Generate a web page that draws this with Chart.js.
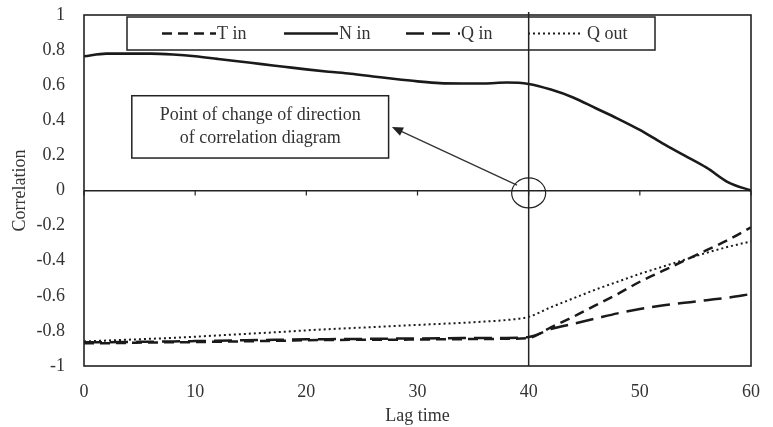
<!DOCTYPE html>
<html>
<head>
<meta charset="utf-8">
<script src="https://cdn.jsdelivr.net/npm/chart.js@4.4.1/dist/chart.umd.min.js"></script>
<style>
  html, body { margin: 0; padding: 0; background: #fff; }
  #wrap { width: 773px; height: 427px; }
</style>
</head>
<body>
<div id="wrap"><canvas id="corrChart" width="773" height="427"></canvas></div>
<script>
// lag time (x) and correlation series
const LAGS = [0, 2, 4, 6, 8, 10, 12, 14, 16, 18, 20, 22, 24, 26, 28, 30,
              32, 34, 36, 38, 40, 42, 44, 46, 48, 50, 52, 54, 56, 58, 60];

const T_IN = [-0.87, -0.87, -0.868, -0.866, -0.865, -0.864, -0.862, -0.86, -0.858, -0.856,
              -0.853, -0.852, -0.851, -0.85, -0.85, -0.849, -0.848, -0.847, -0.846, -0.845,
              -0.84, -0.78, -0.72, -0.655, -0.59, -0.52, -0.46, -0.40, -0.34, -0.28, -0.21];

const N_IN = [0.765, 0.78, 0.78, 0.78, 0.775, 0.765, 0.75, 0.735, 0.72, 0.705,
              0.69, 0.677, 0.665, 0.65, 0.635, 0.622, 0.612, 0.61, 0.61, 0.615,
              0.607, 0.575, 0.53, 0.47, 0.41, 0.345, 0.27, 0.2, 0.13, 0.045, 0.0];

const Q_IN = [-0.865, -0.865, -0.863, -0.862, -0.86, -0.858, -0.856, -0.854, -0.852, -0.85,
              -0.848, -0.847, -0.846, -0.845, -0.844, -0.843, -0.842, -0.841, -0.84, -0.84,
              -0.835, -0.79, -0.76, -0.73, -0.70, -0.675, -0.655, -0.64, -0.625, -0.61, -0.59];

const Q_OUT = [-0.86, -0.855, -0.85, -0.845, -0.84, -0.833, -0.826, -0.819, -0.812, -0.805,
               -0.797, -0.79, -0.784, -0.778, -0.772, -0.766, -0.76, -0.754, -0.747, -0.738,
               -0.72, -0.665, -0.615, -0.565, -0.52, -0.475, -0.435, -0.395, -0.355, -0.32, -0.29];

const X_TICKS = [0, 10, 20, 30, 40, 50, 60];
const Y_TICKS = [-1, -0.8, -0.6, -0.4, -0.2, 0, 0.2, 0.4, 0.6, 0.8, 1];

const CHANGE_LAG = 40;
const NOTE_LINES = ['Point of change of direction', 'of correlation diagram'];

const FONT = '"Liberation Serif", "Times New Roman", serif';
const ink = '#1a1a1a';
const textColor = '#333';

const toPoints = function (values) {
    return LAGS.map(function (lag, i) { return { x: lag, y: values[i] }; });
};

const series = function (label, values, dash, width) {
    return {
        label: label,
        data: toPoints(values),
        borderColor: ink,
        borderWidth: width,
        borderDash: dash,
        borderCapStyle: 'butt',
        pointRadius: 0,
        fill: false,
        cubicInterpolationMode: 'monotone'
    };
};

// frame, zero-line ticks, legend, marker line and the note
const overlay = {
    id: 'overlay',
    afterDatasetsDraw(chart) {
        const { ctx, chartArea: a, scales: { x, y } } = chart;
        ctx.save();

        // plot frame
        ctx.strokeStyle = '#222';
        ctx.lineWidth = 1.6;
        ctx.setLineDash([]);
        ctx.strokeRect(a.left, a.top, a.right - a.left, a.bottom - a.top);

        // tick marks hanging from the zero line
        const y0 = y.getPixelForValue(0);
        ctx.lineWidth = 1.2;
        X_TICKS.forEach(function (v) {
            const px = x.getPixelForValue(v);
            ctx.beginPath();
            ctx.moveTo(px, y0);
            ctx.lineTo(px, y0 + 5);
            ctx.stroke();
        });

        // legend box
        const lx = a.left + 43, ly = a.top + 2, lw = 528, lh = 33;
        ctx.lineWidth = 1.5;
        ctx.strokeRect(lx, ly, lw, lh);
        ctx.font = '18px ' + FONT;
        ctx.textBaseline = 'middle';
        ctx.textAlign = 'left';
        chart.data.datasets.forEach(function (ds, i) {
            const sx = lx + 35 + i * 122;
            const sy = ly + lh / 2;
            ctx.strokeStyle = ink;
            ctx.lineWidth = ds.borderWidth;
            ctx.setLineDash(ds.borderDash || []);
            ctx.beginPath();
            ctx.moveTo(sx, sy);
            ctx.lineTo(sx + 54, sy);
            ctx.stroke();
            ctx.setLineDash([]);
            ctx.fillStyle = textColor;
            ctx.fillText(ds.label, sx + 55 + (ds.label === 'Q out' ? 4 : 0), sy + 1);
        });

        // vertical marker at the change lag
        const vx = x.getPixelForValue(CHANGE_LAG);
        ctx.strokeStyle = '#222';
        ctx.lineWidth = 1.5;
        ctx.beginPath();
        ctx.moveTo(vx, a.top - 3);
        ctx.lineTo(vx, a.bottom);
        ctx.stroke();

        // circle around the change point
        ctx.lineWidth = 1.2;
        ctx.beginPath();
        ctx.ellipse(vx, y.getPixelForValue(-0.014), 17, 15, 0, 0, Math.PI * 2);
        ctx.stroke();

        // note box
        const bx1 = x.getPixelForValue(4.3), bx2 = x.getPixelForValue(27.4);
        const by1 = y.getPixelForValue(0.54), by2 = y.getPixelForValue(0.185);
        ctx.lineWidth = 1.5;
        ctx.strokeRect(bx1, by1, bx2 - bx1, by2 - by1);
        ctx.fillStyle = textColor;
        ctx.textAlign = 'center';
        ctx.fillText(NOTE_LINES[0], (bx1 + bx2) / 2, by1 + 20);
        ctx.fillText(NOTE_LINES[1], (bx1 + bx2) / 2, by1 + 43);

        // arrow from the circle to the note
        const ax1 = x.getPixelForValue(38.95), ay1 = y.getPixelForValue(0.031);
        const ax2 = x.getPixelForValue(27.7), ay2 = y.getPixelForValue(0.362);
        const ang = Math.atan2(ay2 - ay1, ax2 - ax1);
        ctx.strokeStyle = '#333';
        ctx.lineWidth = 1.3;
        ctx.beginPath();
        ctx.moveTo(ax1, ay1);
        ctx.lineTo(ax2 - Math.cos(ang) * 8, ay2 - Math.sin(ang) * 8);
        ctx.stroke();
        ctx.fillStyle = '#222';
        ctx.beginPath();
        ctx.moveTo(ax2, ay2);
        ctx.lineTo(ax2 - Math.cos(ang - 0.4) * 12, ay2 - Math.sin(ang - 0.4) * 12);
        ctx.lineTo(ax2 - Math.cos(ang + 0.4) * 12, ay2 - Math.sin(ang + 0.4) * 12);
        ctx.closePath();
        ctx.fill();

        ctx.restore();
    }
};

new Chart(document.getElementById('corrChart'), {
    type: 'line',
    data: {
        datasets: [
            series('T in', T_IN, [10, 6], 2.5),
            series('N in', N_IN, [], 2.6),
            series('Q in', Q_IN, [18, 8], 2.5),
            series('Q out', Q_OUT, [2, 3], 2)
        ]
    },
    options: {
        responsive: false,
        animation: false,
        layout: { padding: { top: 15, right: 22, left: 0, bottom: 0 } },
        plugins: {
            legend: { display: false },
            tooltip: { enabled: false }
        },
        scales: {
            x: {
                type: 'linear',
                min: 0,
                max: 60,
                afterBuildTicks: function (scale) {
                    scale.ticks = X_TICKS.map(function (v) { return { value: v }; });
                },
                afterFit: function (scale) {
                    scale.height = 61;
                    scale.paddingLeft = 0;
                    scale.paddingRight = 0;
                },
                grid: { display: false, drawTicks: false },
                border: { display: false },
                ticks: {
                    color: textColor,
                    padding: 15,
                    maxRotation: 0,
                    font: { family: FONT, size: 18 }
                },
                title: {
                    display: true,
                    text: 'Lag time',
                    color: textColor,
                    padding: { top: 0, bottom: 0 },
                    font: { family: FONT, size: 18 }
                }
            },
            y: {
                min: -1,
                max: 1,
                afterBuildTicks: function (scale) {
                    scale.ticks = Y_TICKS.map(function (v) { return { value: v }; });
                },
                afterFit: function (scale) {
                    scale.width = 84;
                    scale.paddingTop = 0;
                    scale.paddingBottom = 0;
                },
                grid: {
                    drawTicks: false,
                    lineWidth: 1.5,
                    color: function (c) {
                        return c.tick && c.tick.value === 0 ? '#222' : 'rgba(0,0,0,0)';
                    }
                },
                border: { display: false },
                ticks: {
                    color: textColor,
                    padding: 19,
                    font: { family: FONT, size: 18 },
                    callback: function (v) { return String(Number(Number(v).toFixed(1))); }
                },
                title: {
                    display: true,
                    text: 'Correlation',
                    color: textColor,
                    padding: { top: 9, bottom: 0 },
                    font: { family: FONT, size: 18 }
                }
            }
        }
    },
    plugins: [overlay]
});
</script>
</body>
</html>
